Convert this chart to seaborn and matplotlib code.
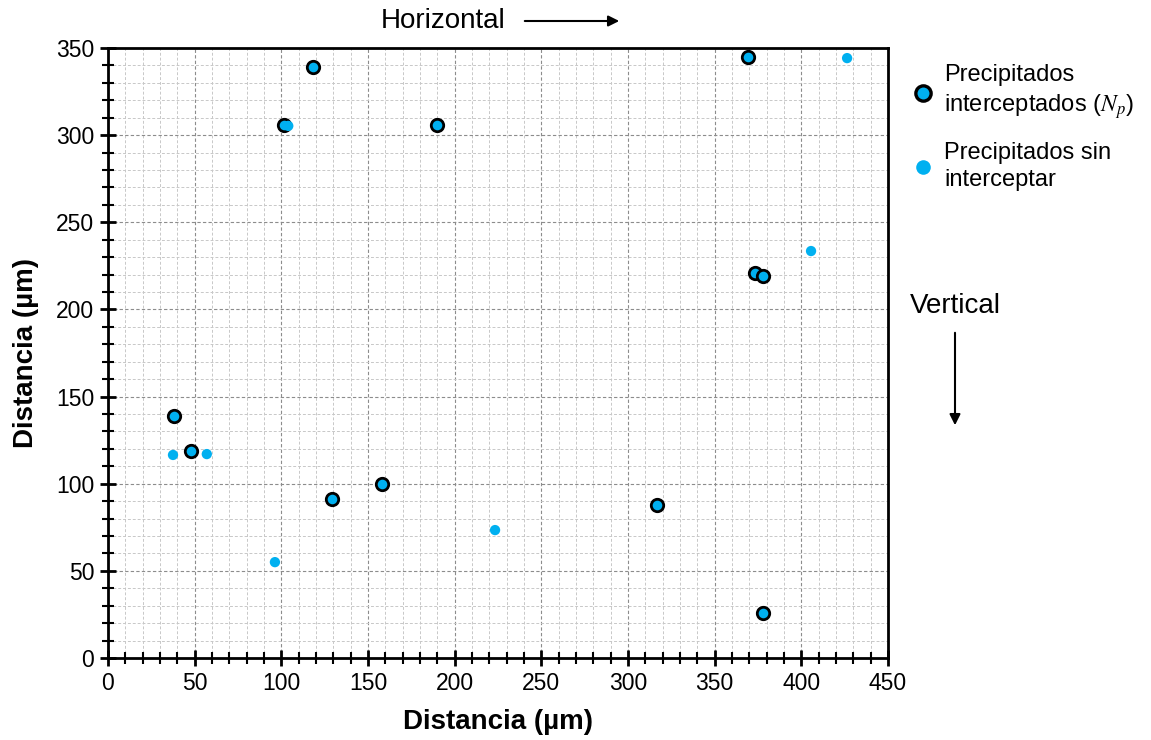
import matplotlib
matplotlib.use("Agg")
import matplotlib.pyplot as plt
import seaborn as sns
import pandas as pd
from matplotlib.ticker import MultipleLocator
from matplotlib.lines import Line2D

# Data
inter_x = [38, 48, 101.5, 118, 129, 158, 190, 317, 369, 373, 378, 378]
inter_y = [139, 119, 306, 339, 91, 100, 306, 88, 345, 221, 219, 26]
sin_x = [37.5, 57, 104, 96.3, 223.3, 405.6, 426.4]
sin_y = [116.5, 117, 305.3, 55, 73.4, 233.5, 344.2]
label_inter = "Precipitados\ninterceptados ($\\mathit{N_p}$)"
label_sin = "Precipitados sin\ninterceptar"

sns.set_style("ticks")
plt.rcParams['font.family'] = ['Liberation Sans', 'DejaVu Sans']
plt.rcParams['mathtext.fontset'] = 'stix'
plt.rcParams['text.color'] = 'black'
plt.rcParams['axes.labelcolor'] = 'black'

blue = "#00B0F0"

df1 = pd.DataFrame({"x": inter_x, "y": inter_y})
df2 = pd.DataFrame({"x": sin_x, "y": sin_y})

fig = plt.figure(figsize=(11.51, 7.40), dpi=100)
ax = fig.add_axes([108/1151, 1-658/740, 780/1151, 610/740])

sns.scatterplot(data=df1, x="x", y="y", ax=ax, s=80, color=blue,
                edgecolor="black", linewidth=2.0, zorder=3, legend=False)
sns.scatterplot(data=df2, x="x", y="y", ax=ax, s=55, color=blue,
                edgecolor="none", linewidth=0, zorder=4, legend=False)

ax.set_xlim(0, 450)
ax.set_ylim(0, 350)
ax.xaxis.set_major_locator(MultipleLocator(50))
ax.yaxis.set_major_locator(MultipleLocator(50))
ax.xaxis.set_minor_locator(MultipleLocator(10))
ax.yaxis.set_minor_locator(MultipleLocator(10))
ax.grid(which="major", color="#8c8c8c", linestyle=(0, (3, 2)), linewidth=0.8, zorder=0)
ax.grid(which="minor", color="#c8c8c8", linestyle=(0, (3, 2)), linewidth=0.7, zorder=0)
ax.set_axisbelow(True)

for sp in ax.spines.values():
    sp.set_linewidth(2.0)
    sp.set_color("black")
    sp.set_visible(True)

ax.tick_params(which="major", direction="inout", length=12, width=2, labelsize=16.5,
               colors="black", pad=4)
ax.tick_params(which="minor", direction="inout", length=8, width=1.5, colors="black")
ax.tick_params(axis="x", which="both", top=False)
ax.tick_params(axis="y", which="both", right=False)

ax.set_xlabel("Distancia (µm)", fontsize=20, fontweight="bold", labelpad=10)
ax.set_ylabel("Distancia (µm)", fontsize=20, fontweight="bold", labelpad=12)

# Legend
handles = [
    Line2D([], [], marker="o", linestyle="none", markersize=11, markerfacecolor=blue,
           markeredgecolor="black", markeredgewidth=2.4),
    Line2D([], [], marker="o", linestyle="none", markersize=10.5, markerfacecolor=blue,
           markeredgecolor="none"),
]
leg = fig.legend(handles, [label_inter, label_sin], loc="upper left",
                 bbox_to_anchor=(910/1151, 1-64/740), frameon=False, fontsize=17,
                 handletextpad=0.35, labelspacing=0.9, handlelength=1.1, borderpad=0,
                 borderaxespad=0)
for t in leg.get_texts():
    t.set_linespacing(1.3)

# Annotations
fig.text(443/1151, 1-21/740, "Horizontal", fontsize=20, ha="center", va="center")
fig.add_artist(matplotlib.patches.FancyArrowPatch(
    (522/1151, 1-21/740), (622/1151, 1-21/740), transform=fig.transFigure,
    arrowstyle="-|>", mutation_scale=16, color="black", linewidth=1.5))
fig.text(955/1151, 1-306/740, "Vertical", fontsize=20, ha="center", va="center")
fig.add_artist(matplotlib.patches.FancyArrowPatch(
    (955/1151, 1-330/740), (955/1151, 1-428/740), transform=fig.transFigure,
    arrowstyle="-|>", mutation_scale=16, color="black", linewidth=1.5))

fig.savefig("out.png", dpi=100)
